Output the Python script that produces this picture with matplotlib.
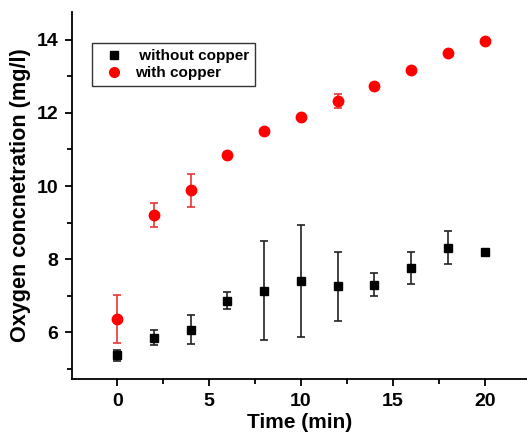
import numpy as np
import matplotlib
matplotlib.use("Agg")
import matplotlib.pyplot as plt
from matplotlib.lines import Line2D
from matplotlib.ticker import MultipleLocator

plt.rcParams['font.family'] = ['Liberation Sans', 'DejaVu Sans']
plt.rcParams['font.weight'] = 'bold'

time_min = [0, 2, 4, 6, 8, 10, 12, 14, 16, 18, 20]
without_cu = [5.37, 5.86, 6.07, 6.87, 7.14, 7.41, 7.26, 7.30, 7.76, 8.31, 8.19]
without_err = [0.16, 0.21, 0.40, 0.24, 1.36, 1.53, 0.95, 0.31, 0.43, 0.45, 0.10]
with_cu = [6.37, 9.20, 9.88, 10.86, 11.49, 11.89, 12.32, 12.72, 13.17, 13.64, 13.96]
with_err = [0.66, 0.33, 0.45, 0.08, 0.05, 0.04, 0.19, 0.04, 0.04, 0.04, 0.04]

fig = plt.figure(figsize=(5.27, 4.34), dpi=100)
ax = fig.add_axes([0.137, 0.127, 0.863, 0.845])

ax.errorbar(time_min, without_cu, yerr=without_err, fmt='s', color='black',
            ecolor='#222222', elinewidth=1.2, capsize=3, capthick=1.2,
            markersize=6.2)
ax.errorbar(time_min, with_cu, yerr=with_err, fmt='o', color='#ff0000',
            ecolor='#ee3333', elinewidth=1.2, capsize=3, capthick=1.2,
            markersize=7.5)

ax.set_xlim(-2.45, 22.3)
ax.set_ylim(4.73, 14.75)
ax.xaxis.set_major_locator(MultipleLocator(5))
ax.xaxis.set_minor_locator(MultipleLocator(2.5))
ax.yaxis.set_major_locator(MultipleLocator(2))
ax.yaxis.set_minor_locator(MultipleLocator(1))

for s in ['top', 'right']:
    ax.spines[s].set_visible(False)
for s in ['left', 'bottom']:
    ax.spines[s].set_linewidth(1.3)

ax.tick_params(which='major', direction='out', length=5, width=1.3,
               labelsize=14, pad=5)
ax.tick_params(which='minor', direction='out', length=3.5, width=1.3)
for lab in ax.get_xticklabels() + ax.get_yticklabels():
    lab.set_fontweight('bold')

ax.set_xlabel('Time (min)', fontsize=15, fontweight='bold', labelpad=2)
ax.set_ylabel('Oxygen concnetration (mg/l)', fontsize=15.6, fontweight='bold',
              labelpad=4)

handles = [Line2D([], [], marker='s', ls='none', color='black', markersize=6),
           Line2D([], [], marker='o', ls='none', color='#ff0000', markersize=7)]
leg = ax.legend(handles, [' without copper', 'with copper'],
                loc='upper left', bbox_to_anchor=(0.044, 0.916), fontsize=11,
                frameon=True, fancybox=False, edgecolor='black',
                handlelength=2.0, handletextpad=0.4, borderpad=0.4,
                labelspacing=0.2, borderaxespad=0)
leg.get_frame().set_linewidth(1.0)
for t in leg.get_texts():
    t.set_fontweight('bold')

fig.savefig('out.png', dpi=100)
